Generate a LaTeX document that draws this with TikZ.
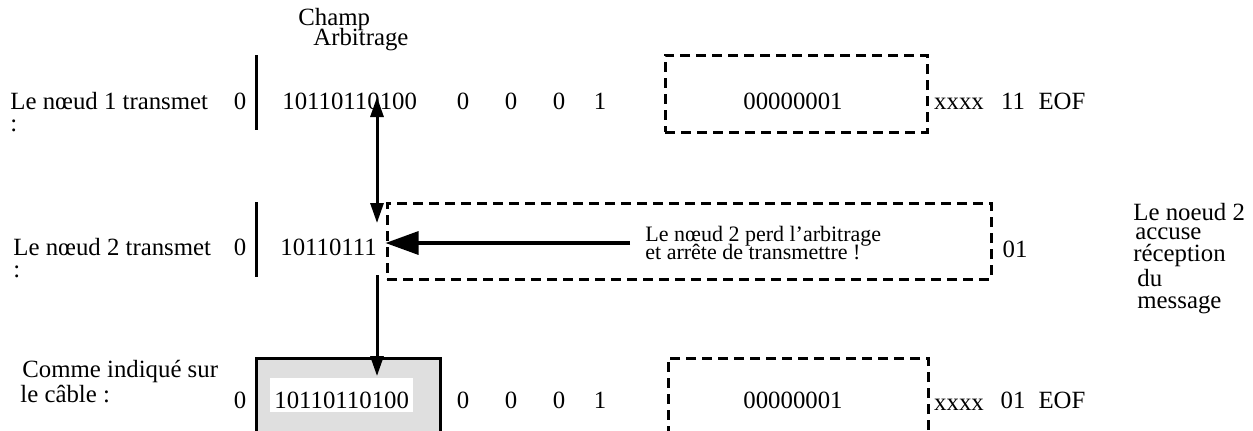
\documentclass[tikz,border=0pt]{standalone}
\usepackage{fontspec}
\setmainfont{Liberation Serif}
\usetikzlibrary{arrows.meta,positioning}

\begin{document}
\begin{tikzpicture}[x=0.5pt,y=-0.5pt,
    every node/.style={inner sep=0pt,font=\fontsize{12.4}{14}\selectfont},
    lbl/.style={anchor=base west},
    bit/.style={anchor=base},
    note/.style={anchor=base west,font=\fontsize{11}{12}\selectfont},
    dashbox/.style={draw,line width=1.5pt,dash pattern=on 5pt off 3pt},
    bar/.style={line width=1.5pt},
    hit/.style={line width=1.5pt,-{Triangle[length=10pt,width=6.5pt]}},
    hits/.style={line width=1.5pt,{Triangle[length=10pt,width=6.5pt]}-{Triangle[length=10pt,width=6.5pt]}}]
    \clip (0,0) rectangle (1253,430);

    \node[lbl] (champ) at (298,25) {Champ};
    \node[lbl] (arb) at (313,45) {Arbitrage};

    \node[lbl] (n1) at (10,109) {Le nœud 1 transmet};
    \node[lbl] (n1c) at (10,131) {:};
    \node[bit] (sof1) at (240,109) {0};
    \draw[bar] (256,55) -- (256,130);
    \node[lbl] (id1) at (282,109) {10110110100};
    \node[bit] (rtr1) at (463,109) {0};
    \node[bit] (ide1) at (511,109) {0};
    \node[bit] (r01) at (559,109) {0};
    \node[bit] (dlc1) at (600,109) {1};
    \node[dashbox,minimum width=131pt,minimum height=38.5pt] (data1) at (796,93.5) {};
    \node[bit] (val1) at (793,109) {00000001};
    \node[bit] (crc1) at (959,109) {xxxx};
    \node[bit] (ack1) at (1013,109) {11};
    \node[bit] (eof1) at (1062,109) {EOF};

    \node[lbl] (n2) at (13,255) {Le nœud 2 transmet};
    \node[lbl] (n2c) at (13,277) {:};
    \node[bit] (sof2) at (240,255) {0};
    \draw[bar] (256,202) -- (256,277);
    \node[lbl] (id2) at (280,255) {10110111};
    \node[dashbox,minimum width=302pt,minimum height=38pt] (lost) at (689,241) {};
    \node[note] (msg1) at (645,241) {Le nœud 2 perd l’arbitrage};
    \node[note] (msg2) at (645,259) {et arrête de transmettre !};
    \coordinate (from) at (630,243);
    \node[bit] (ack2) at (1015,257) {01};
    \node[lbl] (ack2a) at (1133,220) {Le noeud 2};
    \node[lbl] (ack2b) at (1135,239) {accuse};
    \node[lbl] (ack2c) at (1133,261) {réception};
    \node[lbl] (ack2d) at (1137,286) {du};
    \node[lbl] (ack2e) at (1137,308) {message};

    \node[lbl] (n3) at (22,377) {Comme indiqué sur};
    \node[lbl] (n3b) at (20,402) {le câble :};
    \node[bit] (sof3) at (240,408) {0};
    \node[draw,line width=1.5pt,fill=gray!25,minimum width=92pt,minimum height=41pt] (cable) at (348,399) {};
    \node[lbl,fill=white,inner xsep=2pt,text height=15pt,text depth=2pt] (id3) at (270,408) {10110110100};
    \node[bit] (rtr3) at (463,408) {0};
    \node[bit] (ide3) at (511,408) {0};
    \node[bit] (r03) at (559,408) {0};
    \node[bit] (dlc3) at (600,408) {1};
    \node[dashbox,minimum width=130pt,minimum height=42pt] (data3) at (798,400) {};
    \node[bit] (val3) at (793,408) {00000001};
    \node[bit] (crc3) at (959,410) {xxxx};
    \node[bit] (ack3) at (1013,408) {01};
    \node[bit] (eof3) at (1062,408) {EOF};

    \coordinate (bit1) at (377,97);
    \coordinate (bit2) at (377,223);
    \coordinate (out2) at (377,275);
    \coordinate (bit3) at (377,376);

    \draw[hits] (bit1) -- (bit2);
    \draw[hit] (out2) -- (bit3);
    \draw[line width=1.6pt,-{Triangle[length=16.5pt,width=11.5pt]}] (from) -- (from -| lost.west);
\end{tikzpicture}
\end{document}
